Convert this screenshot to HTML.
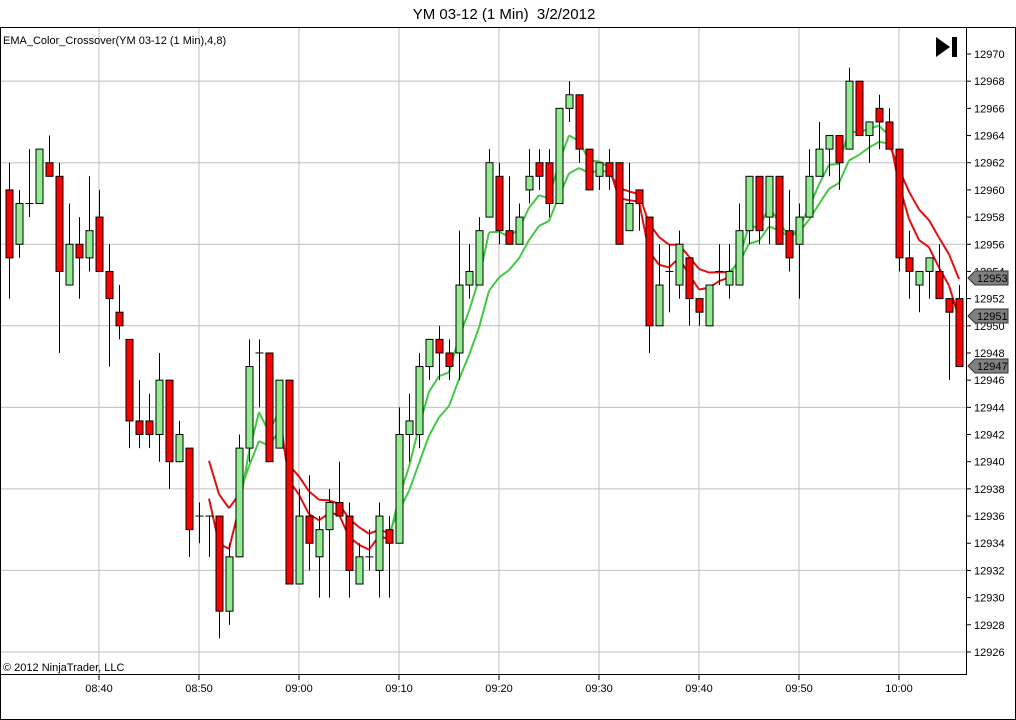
<!DOCTYPE html>
<html><head><meta charset="utf-8"><style>
body{margin:0;background:#fff;}
svg{display:block;font-family:"Liberation Sans",Arial,sans-serif;}
</style></head><body>
<svg id="c" width="1016" height="720" xmlns="http://www.w3.org/2000/svg">
<rect x="0" y="0" width="1016" height="720" fill="#fff"/>
<text x="504" y="19" font-size="15" text-anchor="middle" fill="#000" xml:space="preserve" style="white-space:pre">YM 03-12 (1 Min)  3/2/2012</text>
<g id="grid"></g>
<g id="ema"></g>
<g id="bars"></g>
<g id="axes"></g>
<text x="3" y="44" font-size="11" fill="#000">EMA_Color_Crossover(YM 03-12 (1 Min),4,8)</text>
<text x="3" y="671" font-size="11" fill="#000">© 2012 NinjaTrader, LLC</text>
<polygon points="936,37 950,47 936,57" fill="#000"/>
<rect x="952" y="37" width="5" height="20" fill="#000"/>
</svg>
<script>
var D=[[12960,12962,12952,12955],[12956,12960,12955,12959],[12959,12963,12958,12959],[12959,12963,12959,12963],[12962,12964,12961,12961],[12961,12962,12948,12954],[12953,12959,12953,12956],[12956,12958,12952,12955],[12955,12961,12954,12957],[12958,12960,12954,12954],[12954,12956,12947,12952],[12951,12953,12949,12950],[12949,12949,12941,12943],[12943,12946,12941,12942],[12943,12945,12941,12942],[12942,12948,12940,12946],[12946,12946,12938,12940],[12940,12943,12940,12942],[12941,12941,12933,12935],[12936,12937,12934,12936],[12936,12936,12933,12936],[12936,12936,12927,12929],[12929,12934,12928,12933],[12933,12942,12933,12941],[12941,12949,12940,12947],[12948,12949,12944,12948],[12948,12948,12940,12940],[12941,12946,12941,12946],[12946,12946,12931,12931],[12931,12938,12931,12936],[12936,12939,12932,12934],[12933,12936,12930,12935],[12935,12938,12930,12937],[12937,12940,12936,12936],[12936,12937,12930,12932],[12931,12934,12931,12933],[12933,12935,12932,12933],[12932,12937,12930,12936],[12935,12936,12930,12934],[12934,12944,12934,12942],[12942,12945,12940,12943],[12942,12948,12941,12947],[12947,12949,12946,12949],[12949,12950,12946,12948],[12948,12949,12946,12947],[12948,12957,12946,12953],[12953,12956,12952,12954],[12953,12958,12953,12957],[12958,12963,12958,12962],[12961,12962,12956,12957],[12957,12961,12956,12956],[12956,12959,12956,12958],[12960,12963,12959,12961],[12962,12963,12960,12961],[12962,12963,12958,12959],[12959,12966,12959,12966],[12966,12968,12965,12967],[12967,12967,12962,12963],[12963,12963,12960,12960],[12961,12962,12960,12962],[12962,12963,12960,12961],[12962,12962,12956,12956],[12957,12962,12957,12959],[12960,12960,12957,12959],[12958,12958,12948,12950],[12950,12956,12950,12953],[12954,12956,12951,12954],[12953,12957,12952,12956],[12955,12955,12950,12952],[12952,12952,12950,12951],[12950,12953,12950,12953],[12954,12956,12953,12954],[12953,12956,12952,12954],[12953,12959,12953,12957],[12957,12961,12956,12961],[12961,12961,12956,12957],[12958,12961,12956,12961],[12961,12961,12956,12956],[12957,12960,12954,12955],[12956,12959,12952,12958],[12958,12963,12958,12961],[12961,12965,12961,12963],[12963,12964,12961,12964],[12964,12964,12960,12962],[12963,12969,12963,12968],[12968,12968,12964,12964],[12964,12965,12962,12965],[12966,12967,12963,12965],[12965,12966,12963,12963],[12963,12963,12954,12955],[12955,12957,12952,12954],[12953,12954,12951,12954],[12954,12955,12952,12955],[12954,12956,12952,12952],[12952,12952,12946,12951],[12952,12953,12947,12947]];
var NS="http://www.w3.org/2000/svg";
function Y(p){return 54+(12970-p)*13.59;}
function X(i){return 9+10*i;}
function el(g,t,a,txt){var e=document.createElementNS(NS,t);for(var k in a)e.setAttribute(k,a[k]);if(txt)e.textContent=txt;document.getElementById(g).appendChild(e);return e;}
for(var p=12926;p<=12968;p+=6){el("grid","line",{x1:1,x2:966,y1:Y(p),y2:Y(p),stroke:"#c0c0c0","stroke-width":1});}
for(var x=99;x<966;x+=100){el("grid","line",{x1:x,x2:x,y1:28,y2:674,stroke:"#c0c0c0","stroke-width":1});}
el("axes","rect",{x:0.5,y:27.5,width:1015,height:692,fill:"none",stroke:"#000"});
el("axes","line",{x1:966.5,x2:966.5,y1:28,y2:674,stroke:"#000"});
el("axes","line",{x1:0,x2:967,y1:674.5,y2:674.5,stroke:"#000"});
for(var p=12926;p<=12970;p+=2){var y=Y(p);el("axes","line",{x1:966,x2:971,y1:y,y2:y,stroke:"#000"});el("axes","text",{x:974,y:y+4,"font-size":11},String(p));}
var tl=["08:40","08:50","09:00","09:10","09:20","09:30","09:40","09:50","10:00"];
for(var i=0;i<9;i++){var x=99+100*i;el("axes","line",{x1:x,x2:x,y1:674,y2:680,stroke:"#000"});el("axes","text",{x:x,y:692,"font-size":11,"text-anchor":"middle"},tl[i]);}
for(var i=0;i<D.length;i++){var d=D[i],x=X(i)+0.5;
el("bars","line",{x1:x,x2:x,y1:Y(d[1]),y2:Y(d[2]),stroke:"#000"});
if(d[0]==d[3]){el("bars","line",{x1:x-4,x2:x+4,y1:Y(d[0]),y2:Y(d[0]),stroke:"#000"});}
else{var t=Math.max(d[0],d[3]),b=Math.min(d[0],d[3]);el("bars","rect",{x:x-3.5,y:Y(t),width:7,height:Y(b)-Y(t),fill:d[3]>d[0]?"#90ee90":"#ff0000",stroke:"#000","stroke-width":1});}}
var f=[],s=[],ef=D[0][3],es=D[0][3];
for(var i=0;i<D.length;i++){var c=D[i][3];ef=ef+(c-ef)*2/5;es=es+(c-es)*2/9;f.push(ef);s.push(es);}
for(var i=20;i<D.length-1;i++){var col=(f[i+1]>=s[i+1])?"#44c844":"#e01010";
el("ema","line",{x1:X(i),x2:X(i+1),y1:Y(f[i]),y2:Y(f[i+1]),stroke:col,"stroke-width":2});
el("ema","line",{x1:X(i),x2:X(i+1),y1:Y(s[i]),y2:Y(s[i+1]),stroke:col,"stroke-width":2});}
[[12953,278],[12951,316],[12947,366]].forEach(function(m){var y=m[1];
el("axes","polygon",{points:(968)+","+y+" "+975+","+(y-7)+" 1008,"+(y-7)+" 1008,"+(y+7)+" 975,"+(y+7),fill:"#808080",stroke:"#333"});
el("axes","text",{x:977,y:y+4,"font-size":11,fill:"#000"},String(m[0]));});
</script>
</body></html>
